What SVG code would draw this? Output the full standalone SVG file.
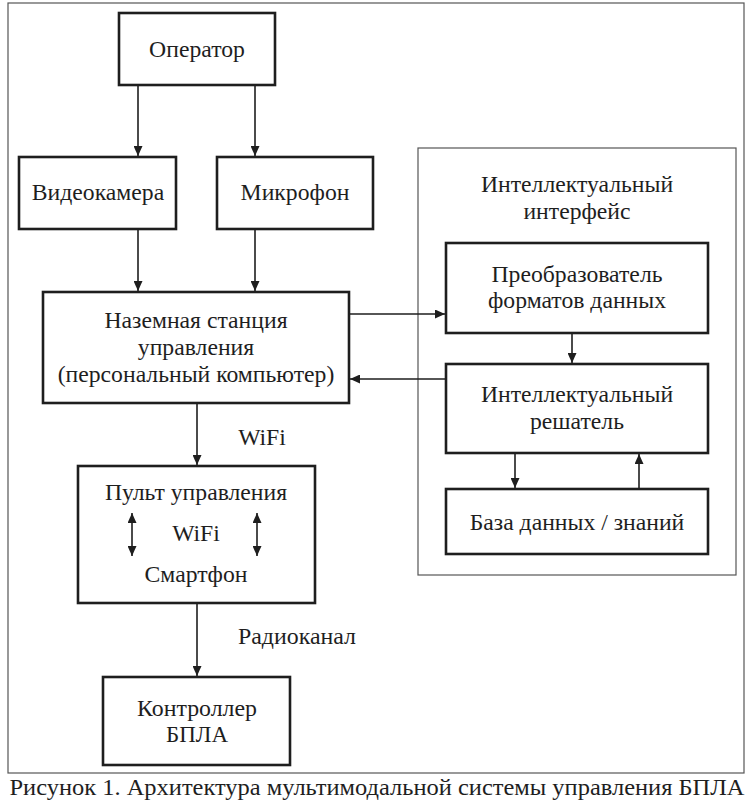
<svg xmlns="http://www.w3.org/2000/svg" width="755" height="807" viewBox="0 0 755 807">
<defs>
<marker id="ah" markerUnits="userSpaceOnUse" markerWidth="10" markerHeight="9" refX="10" refY="4.5" orient="auto-start-reverse" viewBox="0 0 10 9">
<path d="M0,0 L10,4.5 L0,9 z" fill="#1e1e1e"/>
</marker>
</defs>
<style>
.box{fill:#fff;stroke:#1e1e1e;stroke-width:2.6}
.frame{fill:none;stroke:#555;stroke-width:1.2}
.t{font-family:'Liberation Serif','DejaVu Serif',serif;font-size:23.7px;fill:#1e1e1e;text-anchor:middle}
.c{stroke:#1e1e1e;stroke-width:1.6;fill:none;marker-end:url(#ah)}
.d{stroke:#1e1e1e;stroke-width:1.6;fill:none;marker-end:url(#ah);marker-start:url(#ah)}
</style>
<rect x="0" y="0" width="755" height="807" fill="#fff"/>
<rect class="frame" x="8" y="3" width="736" height="770"/>
<g id="intellectual-interface">
<rect class="frame" x="418" y="148" width="318" height="427"/>
<text class="t" x="577" y="192">Интеллектуальный</text>
<text class="t" x="577" y="219">интерфейс</text>
</g>
<g id="operator">
<rect class="box" x="119" y="13" width="156" height="72"/>
<text class="t" x="197" y="57">Оператор</text>
</g>
<g id="videocamera">
<rect class="box" x="19" y="157" width="157" height="72"/>
<text class="t" x="98" y="200">Видеокамера</text>
</g>
<g id="microphone">
<rect class="box" x="217" y="157" width="156" height="72"/>
<text class="t" x="295" y="200">Микрофон</text>
</g>
<g id="ground-station">
<rect class="box" x="43" y="292" width="306" height="111"/>
<text class="t" x="196" y="328">Наземная станция</text>
<text class="t" x="196" y="355">управления</text>
<text class="t" x="196" y="382">(персональный компьютер)</text>
</g>
<g id="converter">
<rect class="box" x="446" y="243" width="262" height="90"/>
<text class="t" x="577" y="282">Преобразователь</text>
<text class="t" x="577" y="308">форматов данных</text>
</g>
<g id="solver">
<rect class="box" x="446" y="364" width="262" height="89"/>
<text class="t" x="577" y="402">Интеллектуальный</text>
<text class="t" x="577" y="429">решатель</text>
</g>
<g id="database">
<rect class="box" x="446" y="489" width="262" height="65"/>
<text class="t" x="577" y="530">База данных / знаний</text>
</g>
<g id="remote">
<rect class="box" x="78" y="466" width="237" height="137"/>
<text class="t" x="196" y="500">Пульт управления</text>
<text class="t" x="196" y="541">WiFi</text>
<text class="t" x="196" y="582">Смартфон</text>
</g>
<g id="controller">
<rect class="box" x="103" y="677" width="187" height="88"/>
<text class="t" x="197" y="716" textLength="120" lengthAdjust="spacingAndGlyphs">Контроллер</text>
<text class="t" x="197" y="742" textLength="62" lengthAdjust="spacingAndGlyphs">БПЛА</text>
</g>
<g id="connectors">
<line class="c" x1="138" y1="86" x2="138" y2="156"/>
<line class="c" x1="255" y1="86" x2="255" y2="156"/>
<line class="c" x1="138" y1="230" x2="138" y2="291"/>
<line class="c" x1="255" y1="230" x2="255" y2="291"/>
<line class="c" x1="350" y1="314" x2="445" y2="314"/>
<line class="c" x1="445" y1="379" x2="350" y2="379"/>
<line class="c" x1="572" y1="334" x2="572" y2="363"/>
<line class="c" x1="515" y1="454" x2="515" y2="488"/>
<line class="c" x1="639" y1="488" x2="639" y2="454"/>
<line class="c" x1="197" y1="404" x2="197" y2="465"/>
<line class="c" x1="197" y1="604" x2="197" y2="676"/>
<line class="d" x1="132" y1="513" x2="132" y2="556"/>
<line class="d" x1="257" y1="513" x2="257" y2="556"/>
<text class="t" x="262" y="445">WiFi</text>
<text class="t" x="297" y="644" textLength="118" lengthAdjust="spacingAndGlyphs">Радиоканал</text>
</g>
<text class="t" x="377" y="795" textLength="735" lengthAdjust="spacingAndGlyphs" style="font-size:23px">Рисунок 1. Архитектура мультимодальной системы управления БПЛА</text>
</svg>
